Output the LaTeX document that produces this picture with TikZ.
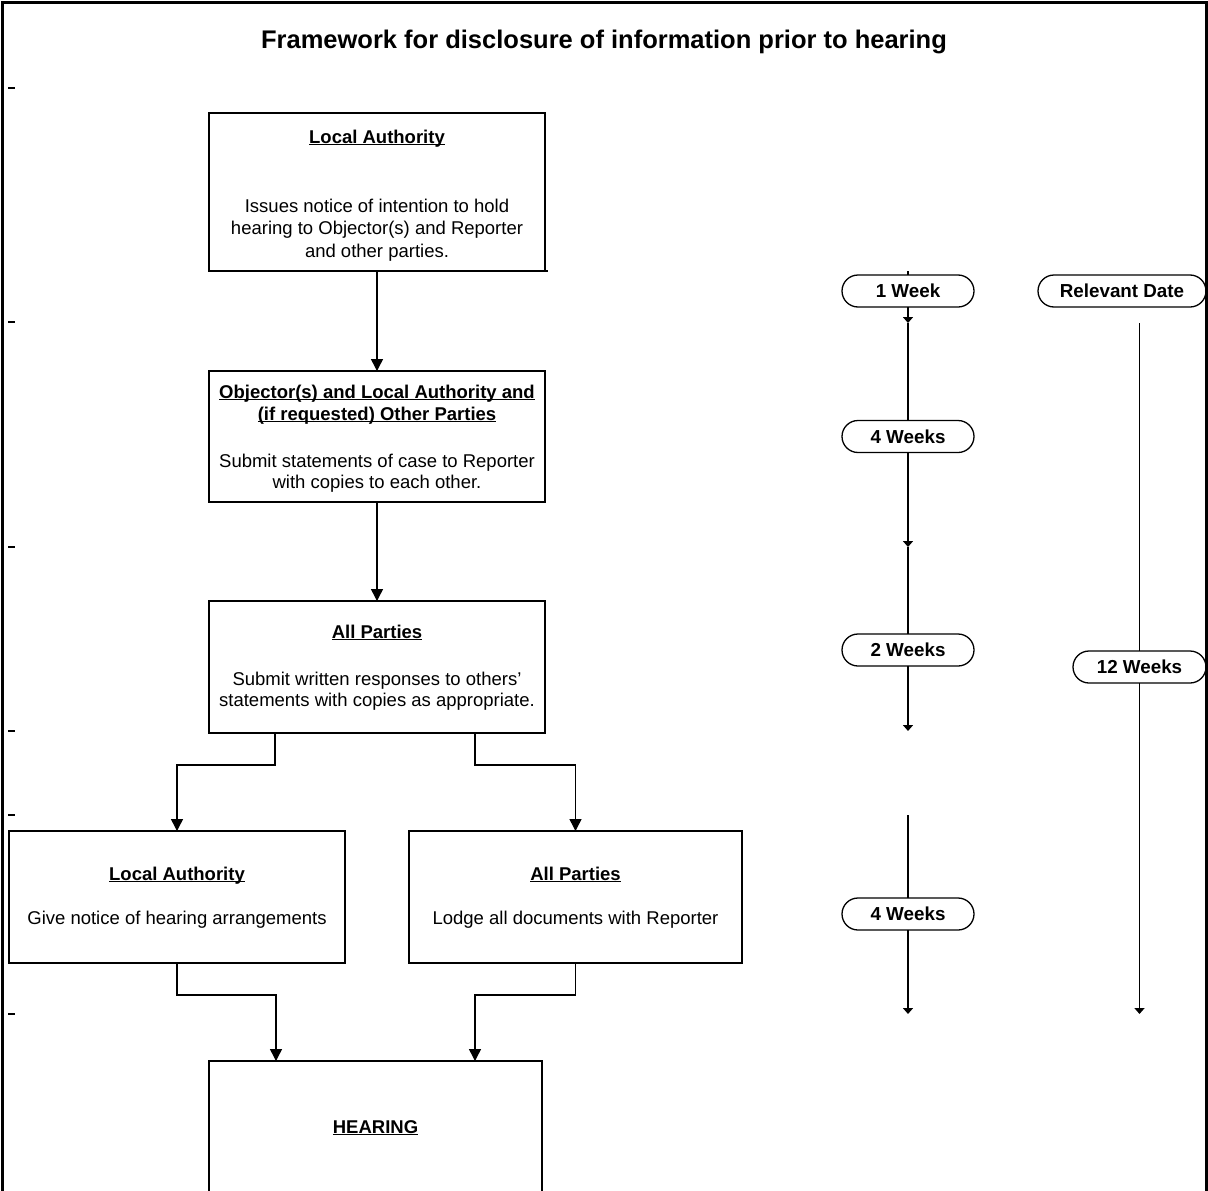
\documentclass[tikz,border=0pt]{standalone}
\usepackage{fontspec}
\setmainfont{Liberation Sans}
\usetikzlibrary{arrows.meta}
\newcommand{\ulbf}[1]{\underline{\smash{\textbf{#1}}}}
\tikzset{
  box/.style={draw, line width=1.6pt, inner sep=0pt, outer sep=0pt, minimum width=336pt},
  txt/.style={anchor=base, inner sep=0pt, font=\fontsize{18.5}{22}\selectfont},
  pill/.style={draw, line width=1.3pt, rounded corners=16pt, inner sep=0pt, outer sep=0pt,
               minimum width=132pt, minimum height=32pt, font=\fontsize{18.8}{22}\selectfont\bfseries},
  conn/.style={line width=1.5pt, -{Triangle[width=12pt,length=12pt]}},
  tl/.style={line width=1.5pt},
  tlarrow/.style={line width=1.5pt, -{Triangle[width=10pt,length=6pt]}},
}
\begin{document}
\begin{tikzpicture}[x=1pt,y=-1pt]
\useasboundingbox (0,0) rectangle (1208,1191);
\clip (0,0) rectangle (1208,1191);
\fill[white] (0,0) rectangle (1208,1191);
% outer frame
\draw[line width=3pt] (2,1200) -- (2,2) -- (1206,2) -- (1206,1200);
% left ticks
\foreach \yy in {88,322,547,731,815,1014} \draw[line width=1.2pt] (8,\yy) -- (15,\yy);
% title
\node[anchor=base, inner sep=0pt, font=\fontsize{25.5}{30}\selectfont\bfseries] (title) at (604,48)
  {Framework for disclosure of information prior to hearing};
% boxes
\node[box, minimum height=158pt] (b1) at (377,192) {};
\node[box, minimum height=131pt] (b2) at (377,436.5) {};
\node[box, minimum height=132pt] (b3) at (377,667) {};
\node[box, minimum height=132pt] (b4) at (177,897) {};
\node[box, minimum height=132pt, minimum width=333pt] (b5) at (575.5,897) {};
\node[box, minimum height=132pt, minimum width=333pt] (hear) at (375.5,1127) {};
\draw[line width=1.6pt] (b1.south east) -- ++(3,0);
% box texts
\node[txt] (b1t) at (377,143) {\ulbf{Local Authority}};
\node[txt] (b1a) at (377,212) {Issues notice of intention to hold};
\node[txt] (b1b) at (377,234) {hearing to Objector(s) and Reporter};
\node[txt] (b1c) at (377,257) {and other parties.};
\node[txt] (b2t) at (377,398) {\ulbf{Objector(s) and Local Authority and}};
\node[txt] (b2u) at (377,420) {\ulbf{(if requested) Other Parties}};
\node[txt] (b2a) at (377,467) {Submit statements of case to Reporter};
\node[txt] (b2b) at (377,488) {with copies to each other.};
\node[txt] (b3t) at (377,638) {\ulbf{All Parties}};
\node[txt] (b3a) at (377,685) {Submit written responses to others’};
\node[txt] (b3b) at (377,706) {statements with copies as appropriate.};
\node[txt] (b4t) at (177,880) {\ulbf{Local Authority}};
\node[txt] (b4a) at (177,924) {Give notice of hearing arrangements};
\node[txt] (b5t) at (575.5,880) {\ulbf{All Parties}};
\node[txt] (b5a) at (575.5,924) {Lodge all documents with Reporter};
\node[txt] (ht) at (375.5,1133) {\ulbf{HEARING}};
% flow connectors
\draw[conn] (b1) -- (b2);
\draw[conn] (b2) -- (b3);
\draw[conn] ([xshift=-102pt]b3.south) -- ++(0,32) -| (b4.north);
\draw[conn] ([xshift=98pt]b3.south) -- ++(0,32) -| (b5.north);
\draw[conn] (b4.south) -- ++(0,32) -| ([xshift=-99.5pt]hear.north);
\draw[conn] (b5.south) -- ++(0,32) -| ([xshift=99.5pt]hear.north);
% timeline
\node[pill] (w1) at (908,291) {1 Week};
\node[pill] (w4a) at (908,436.5) {4 Weeks};
\node[pill] (w2) at (908,650) {2 Weeks};
\node[pill] (w4b) at (908,914) {4 Weeks};
\node[pill, minimum width=168pt] (rd) at (1122,291) {Relevant Date};
\node[pill, minimum width=133pt] (w12) at (1139.5,667) {12 Weeks};
\coordinate (t0) at (908,271);
\coordinate (a1) at (908,323);
\coordinate (a2) at (908,547);
\coordinate (a3) at (908,731);
\coordinate (s4) at (908,815);
\coordinate (a4) at (908,1014);
\coordinate (r0) at (1139.5,323);
\coordinate (r1) at (1139.5,1014);
\draw[tl] (t0) -- (w1);
\draw[tlarrow] (w1) -- (a1);
\draw[tl] (a1) -- (w4a);
\draw[tlarrow] (w4a) -- (a2);
\draw[tl] (a2) -- (w2);
\draw[tlarrow] (w2) -- (a3);
\draw[tl] (s4) -- (w4b);
\draw[tlarrow] (w4b) -- (a4);
\draw[tl] (r0) -- (w12);
\draw[tlarrow] (w12) -- (r1);
\end{tikzpicture}
\end{document}
